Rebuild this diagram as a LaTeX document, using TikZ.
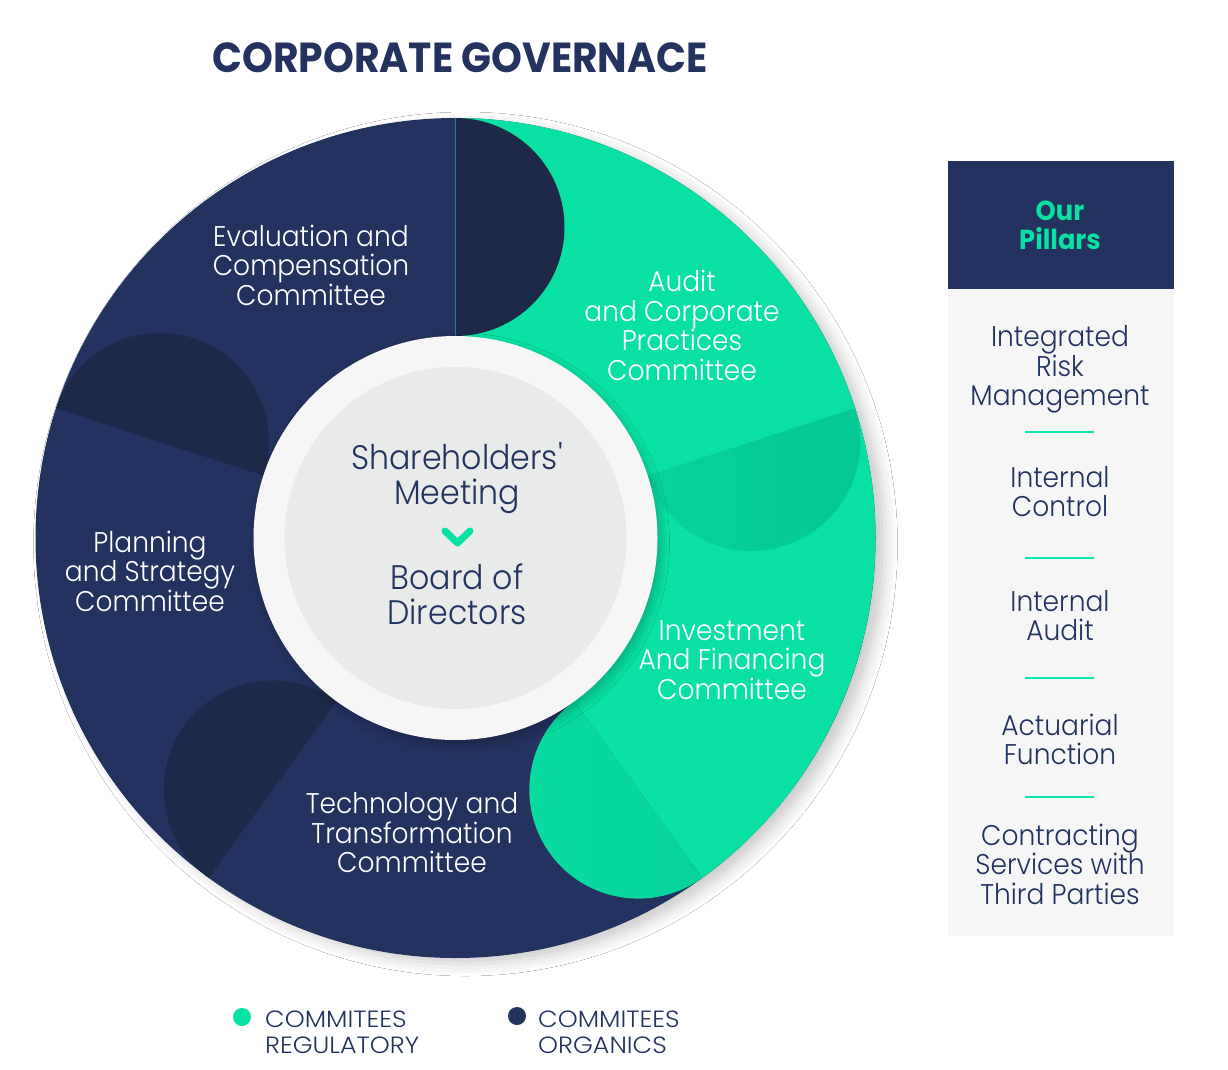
\documentclass[tikz,border=0pt]{standalone}
\usepackage{fontspec}
\setmainfont{Poppins}
\newfontfamily\lightfont{Poppins Light}[FakeStretch=0.93]
\newfontfamily\legendfont{Poppins Light}[FakeStretch=1.08]
\newfontfamily\headfont{Poppins}[FakeStretch=0.935]
\usetikzlibrary{shadows.blur}
\definecolor{navy}{HTML}{23325E}
\definecolor{navydark}{HTML}{1C2948}
\definecolor{mint}{HTML}{09E0A3}
\definecolor{mintdark}{HTML}{04C794}
\definecolor{mintmid}{HTML}{07D39C}
\definecolor{ringc}{HTML}{F6F6F6}
\definecolor{corec}{HTML}{E9EAEA}
\definecolor{panelc}{HTML}{F6F6F6}
\definecolor{textnavy}{HTML}{22335F}
\definecolor{sepc}{HTML}{0BEAAE}
\begin{document}
\begin{tikzpicture}[x=1pt,y=1pt,
  committee/.style={text=white, align=center, inner sep=0pt,
    font=\lightfont\fontsize{28.5}{29.5}\selectfont},
  centertext/.style={text=textnavy, align=center, inner sep=0pt,
    font=\lightfont\fontsize{34}{35}\selectfont},
  pillar/.style={text=textnavy, align=center, inner sep=0pt,
    font=\lightfont\fontsize{28.5}{29.5}\selectfont},
  legendtext/.style={text=textnavy, align=left, anchor=west, inner sep=0pt,
    font=\legendfont\fontsize{23.5}{26}\selectfont},
  sepline/.style={draw=sepc, line width=2.5pt},
  legenddot/.style={circle, inner sep=0pt, minimum size=18pt},
  donutshadow/.style={blur shadow={shadow xshift=10pt, shadow yshift=-6pt,
    shadow blur radius=12pt, shadow opacity=20}},
  ringshadow/.style={blur shadow={shadow xshift=4pt, shadow yshift=-5pt,
    shadow blur radius=8pt, shadow opacity=20}}]
\useasboundingbox (0,0) rectangle (1228,-1070);
\fill[white] (0,0) rectangle (1228,-1070);

% title
\node[text=navy, font=\headfont\bfseries\fontsize{42}{42}\selectfont, inner sep=0pt]
  (title) at (460,-58) {CORPORATE GOVERNACE};

% donut
\begin{scope}[shift={(455.5,-538)}]
  \fill[navy, donutshadow] (0,0) circle[radius=420];
  \fill[mint] (0,0) -- (90:420) arc[start angle=90, end angle=-54, radius=420] -- cycle;
  % half disks
  \fill[navydark] (90:420) arc[start angle=90, end angle=-90, radius=109] -- cycle;
  \shade[left color=mintmid, right color=mintdark]
    (18:420) arc[start angle=18, end angle=-162, radius=109] -- cycle;
  \shade[left color=mint!70!mintmid, right color=mintmid]
    (-54:420) arc[start angle=-54, end angle=-234, radius=109] -- cycle;
  \fill[navydark] (-126:420) arc[start angle=-126, end angle=-306, radius=109] -- cycle;
  \fill[navydark] (162:420) arc[start angle=162, end angle=-18, radius=109] -- cycle;
  \draw[mint!50!navy, line width=0.8pt] (90:203) -- (90:419.5);
  % centre
  \fill[ringc, ringshadow] (0,0) circle[radius=202];
  \fill[corec] (0,0) circle[radius=171];
\end{scope}

% committee labels
\node[committee] (evaluation) at (311,-265) {Evaluation and\\Compensation\\Committee};
\node[committee] (audit) at (682,-325.5) {Audit\\and Corporate\\Practices\\Committee};
\node[committee] (investment) at (732,-660) {Investment\\And Financing\\Committee};
\node[committee] (technology) at (412,-833) {Technology and\\Transformation\\Committee};
\node[committee] (planning) at (150,-571) {Planning\\and Strategy\\Committee};

% centre labels
\node[centertext] (shareholders) at (457,-478) {Shareholders'\\Meeting};
\node[centertext] (board) at (457,-594) {Board of\\Directors};
\coordinate (chevL) at (445,-531);
\coordinate (chevT) at (457.5,-543);
\coordinate (chevR) at (470,-531);
\draw[mint, line width=7pt, line cap=round, line join=round] (chevL) -- (chevT) -- (chevR);

% pillars panel
\fill[panelc] (948,-289) rectangle (1174,-936);
\fill[navy] (948,-161) rectangle (1174,-289);
\node[text=mint, align=center, inner sep=0pt,
  font=\headfont\bfseries\fontsize{27.5}{29}\selectfont] (pillarshead) at (1060,-225.5) {Our\\Pillars};
\node[pillar] (risk) at (1060,-369.5) {Integrated\\Risk\\Management};
\draw[sepline] (1025,-432) -- (1094,-432);
\node[pillar] (control) at (1060,-491.5) {Internal\\Control};
\draw[sepline] (1025,-558) -- (1094,-558);
\node[pillar] (iaudit) at (1060,-615.5) {Internal\\Audit};
\draw[sepline] (1025,-678) -- (1094,-678);
\node[pillar] (actuarial) at (1060,-739.5) {Actuarial\\Function};
\draw[sepline] (1025,-797) -- (1094,-797);
\node[pillar] (contracting) at (1060,-864) {Contracting\\Services with\\Third Parties};

% legend
\node[legenddot, fill=mint] (dotreg) at (242,-1017) {};
\node[legendtext] (legreg) at (265,-1032) {COMMITEES\\REGULATORY};
\node[legenddot, fill=navy] (dotorg) at (517,-1016) {};
\node[legendtext] (legorg) at (538,-1032) {COMMITEES\\ORGANICS};
\end{tikzpicture}
\end{document}
